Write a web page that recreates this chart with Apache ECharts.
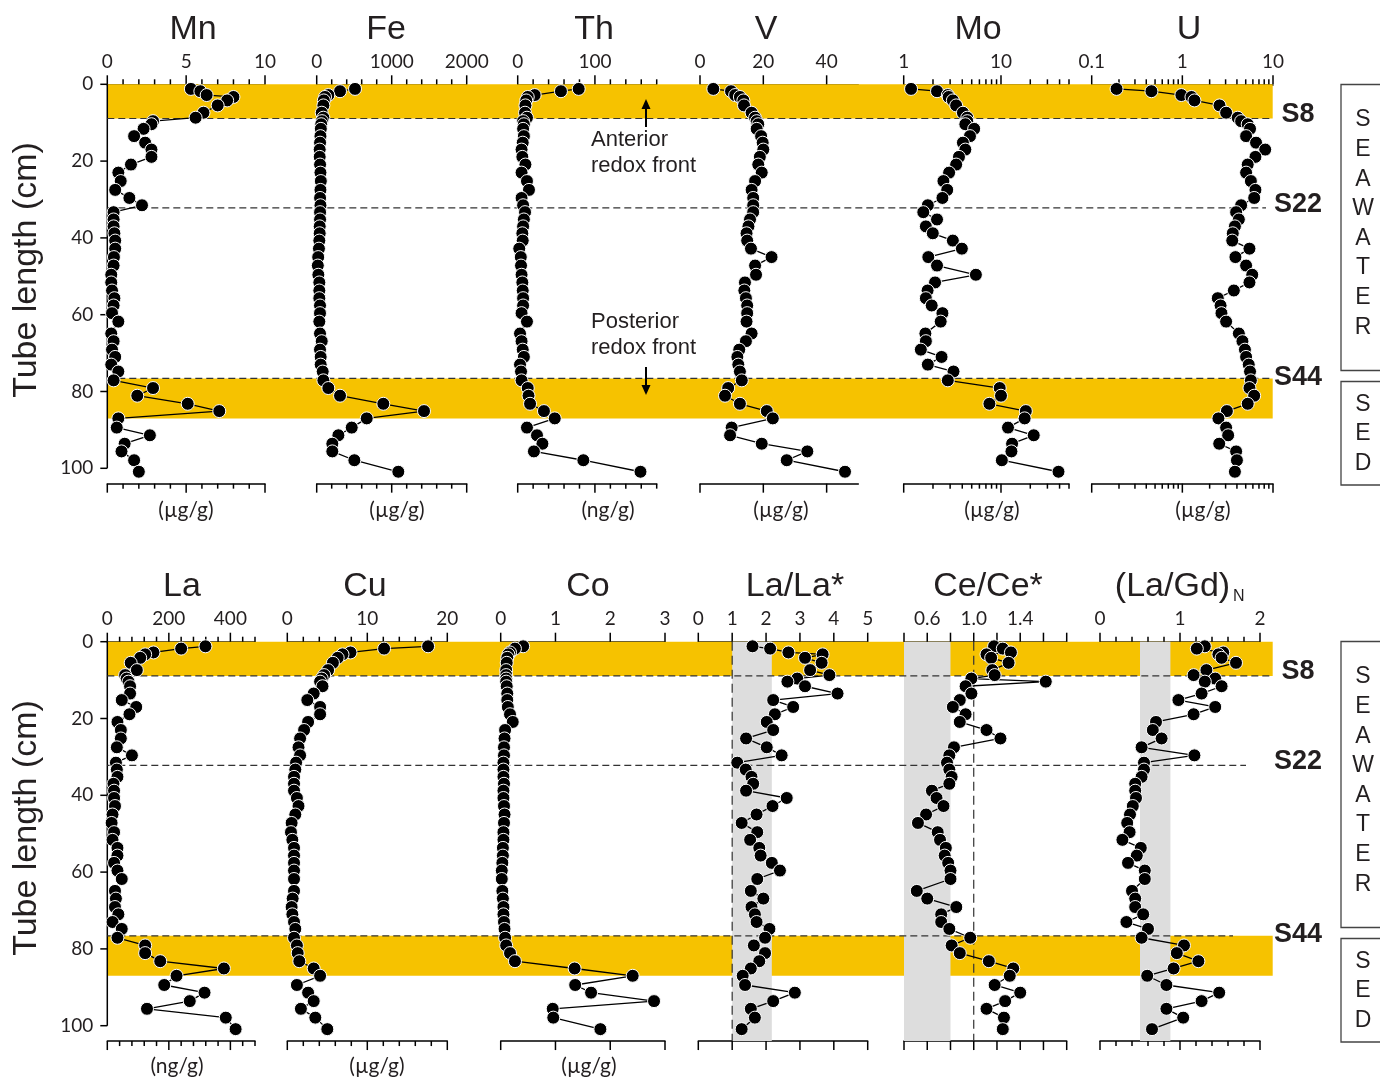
<!DOCTYPE html>
<html>
<head>
<meta charset="utf-8">
<title>Redox profiles along the tube</title>
<script src="https://cdn.jsdelivr.net/npm/echarts@6/dist/echarts.min.js"></script>
<style>
  html, body { margin: 0; padding: 0; background: #fff; }
  #chart { width: 1380px; height: 1084px; }
</style>
</head>
<body>
<div id="chart"></div>
<script>
// sample depth along the tube (cm), shared by all profiles
var depth = [1.2, 1.8, 2.8, 3.3, 4.2, 5.5, 7.4, 8.7, 9.6, 10.4, 11.6, 13.5, 15.2, 17, 18.9, 20.9, 23, 25.2, 27.5, 29.6,
  31.5, 33.3, 35.2, 37, 38.8, 40.7, 42.8, 45, 47.2, 49.6, 51.6, 53.7, 55.7, 57.6, 59.6, 61.8, 64.9, 66.9, 69.1, 71,
  73, 74.8, 77.1, 79.1, 81.1, 83.2, 85.1, 87, 89.4, 91.4, 93.6, 95.6, 97.9, 100.9];

// top row
var mn = [5.3, 5.9, 6.3, 8.0, 7.6, 7.0, 6.1, 5.6, 2.9, 2.8, 2.3, 1.7, 2.4, 2.8, 2.8, 1.5, 0.7, 0.85, 0.5, 1.4,
  2.2, 0.4, 0.4, 0.4, 0.45, 0.5, 0.5, 0.42, 0.4, 0.25, 0.25, 0.3, 0.45, 0.4, 0.3, 0.7, 0.25, 0.4, 0.3, 0.5,
  0.25, 0.7, 0.4, 2.9, 1.9, 5.1, 7.1, 0.7, 0.6, 2.7, 1.1, 0.9, 1.7, 2.0];
var fe = [511, 311, 155, 111, 95, 89, 67, 89, 70, 60, 55, 50, 45, 40, 40, 45, 50, 55, 50, 45,
  50, 45, 45, 40, 40, 35, 30, 20, 15, 22, 35, 35, 35, 44, 44, 35, 44, 67, 44, 53,
  53, 80, 89, 155, 311, 888, 1431, 667, 467, 289, 208, 208, 502, 1088];
var th = [79, 56, 22, 13, 11, 10, 9.5, 12, 7, 8, 7, 8, 6.5, 5, 6, 10, 5, 12, 14.6, 5,
  7, 9.5, 8, 7, 6, 6.5, 2, 4, 4.3, 5, 6, 6.5, 7, 7, 5, 12, 3, 5, 6.5, 8,
  3, 4.3, 5, 13, 14, 16, 34, 48, 12, 25, 32, 21, 85, 159];
var v = [4.2, 9.8, 11.1, 12.6, 13.7, 13.9, 16.3, 17.4, 17.9, 18.4, 17.9, 19.3, 19.8, 20, 18.9, 18.4, 19.5, 17.4, 16.3, 16.8,
  16.8, 16.8, 15.8, 15.3, 14.7, 14.9, 16.1, 22.6, 17.4, 17.7, 14.2, 14, 14.5, 14.9, 14.9, 14.7, 16.3, 14.5, 12.4, 11.8,
  12.1, 12.6, 13.2, 8.9, 7.9, 12.6, 21.1, 23, 10, 9.5, 19.5, 33.9, 27.4, 45.8];
var mo = [1.19, 2.2, 2.84, 2.9, 3.2, 3.46, 4.06, 4.5, 4.5, 4.3, 5.3, 4.8, 4.06, 4.3, 3.7, 3.46, 2.93, 2.56, 2.8, 2.5,
  1.77, 1.59, 2.2, 1.69, 1.99, 3.2, 3.96, 1.79, 2.2, 5.52, 2.1, 1.76, 1.69, 1.94, 2.5, 2.4, 1.67, 1.69, 1.5, 2.45,
  1.77, 3.25, 2.84, 9.7, 10, 7.6, 18, 17.5, 11.8, 21.7, 13, 12.8, 10.2, 39];
var u = [0.188, 0.456, 0.975, 1.26, 1.36, 2.57, 3.04, 4.08, 4.45, 5.26, 5.58, 5.05, 6.5, 8.2, 6.4, 5.26, 5.05, 5.7, 6.4, 6.2,
  4.45, 3.92, 4.2, 3.8, 3.6, 3.55, 5.5, 3.85, 5.05, 5.9, 5.5, 3.7, 2.46, 2.64, 2.7, 3.04, 4.2, 4.6, 4.9, 5.05,
  5.4, 5.58, 5.7, 5.5, 6.2, 5.26, 3.1, 2.5, 3.04, 3.2, 2.55, 3.92, 4.0, 3.8];

// bottom row
var la = [319, 240, 150, 123, 107, 76, 96, 58, 63, 69, 74, 74, 47, 94, 72, 33, 44, 44, 31, 80,
  28, 31, 33, 20, 22, 22, 25, 17, 14, 22, 17, 33, 33, 22, 33, 47, 25, 28, 25, 36,
  17, 47, 33, 123, 123, 172, 379, 225, 185, 316, 268, 129, 385, 417];
var cu = [17.6, 12.1, 7.9, 6.9, 6.3, 5.7, 5.1, 4.6, 4.3, 4.1, 4.4, 3.3, 2.5, 4.1, 4.1, 2.6, 2.1, 1.6, 1.4, 1.6,
  1.1, 1.0, 0.84, 0.84, 0.84, 1.2, 1.4, 1.0, 0.54, 0.46, 0.63, 0.84, 0.84, 0.84, 0.84, 0.84, 0.84, 0.67, 0.54, 0.63,
  0.84, 1.0, 0.84, 1.2, 1.3, 1.5, 3.3, 4.1, 1.2, 2.6, 3.3, 1.7, 3.5, 5.0];
var co = [0.41, 0.26, 0.17, 0.14, 0.12, 0.11, 0.1, 0.1, 0.1, 0.1, 0.11, 0.12, 0.12, 0.13, 0.17, 0.22, 0.08, 0.07, 0.06, 0.06,
  0.05, 0.05, 0.05, 0.06, 0.05, 0.05, 0.06, 0.07, 0.06, 0.05, 0.05, 0.04, 0.04, 0.03, 0.02, 0.02, 0.03, 0.04, 0.05, 0.05,
  0.06, 0.07, 0.08, 0.1, 0.17, 0.26, 1.35, 2.41, 1.36, 1.65, 2.8, 0.95, 0.96, 1.82];
var laLa = [1.6, 2.12, 2.66, 3.67, 3.15, 3.64, 3.3, 3.87, 2.92, 2.63, 3.15, 4.11, 2.21, 2.8, 2.26, 2.02, 2.21, 1.41, 2.02, 2.46,
  1.15, 1.4, 1.57, 1.62, 1.41, 2.61, 2.19, 1.72, 1.28, 1.74, 1.53, 1.8, 1.84, 2.17, 2.41, 1.74, 1.55, 1.92, 1.57, 1.67,
  1.72, 2.1, 1.97, 1.64, 1.97, 1.8, 1.55, 1.31, 1.38, 2.85, 2.21, 1.55, 1.67, 1.28];
var ceCe = [1.175, 1.25, 1.32, 1.11, 1.15, 1.30, 1.16, 1.18, 0.98, 1.62, 0.93, 0.98, 0.88, 0.82, 0.93, 0.88, 1.11, 1.23, 0.83, 0.79,
  0.77, 0.79, 0.81, 0.79, 0.64, 0.68, 0.74, 0.59, 0.52, 0.69, 0.71, 0.76, 0.75, 0.78, 0.80, 0.80, 0.51, 0.60, 0.85, 0.72,
  0.72, 0.79, 0.97, 0.81, 0.88, 1.13, 1.34, 1.31, 1.18, 1.40, 1.27, 1.11, 1.26, 1.25];
var laGd = [1.31, 1.21, 1.54, 1.48, 1.52, 1.70, 1.33, 1.17, 1.44, 1.31, 1.52, 1.27, 0.98, 1.44, 1.17, 0.70, 0.66, 0.77, 0.52, 1.18,
  0.55, 0.55, 0.52, 0.44, 0.44, 0.45, 0.41, 0.375, 0.34, 0.37, 0.28, 0.51, 0.46, 0.35, 0.56, 0.56, 0.40, 0.44, 0.44, 0.54,
  0.33, 0.60, 0.52, 1.05, 0.96, 1.23, 0.92, 0.59, 0.83, 1.49, 1.27, 0.83, 1.04, 0.65];

// zones (cm): sampled intervals and the fronts
var bandZones = [[0, 8.9], [76.6, 87]];
var frontLines = [8.9, 32.2, 76.6];
var depthTicks = [0, 20, 40, 60, 80, 100];

// axis ticks
var mnMajor = [0, 5, 10], mnMinor = [1, 2, 3, 4, 6, 7, 8, 9];
var feMajor = [0, 1000, 2000], feMinor = [200, 400, 600, 800, 1200, 1400, 1600, 1800];
var thMajor = [0, 100], thMinor = [20, 40, 60, 80, 120, 140, 160, 180];
var vMajor = [0, 20, 40], vMinor = [];
var moMajor = [1, 10], moMinor = [2, 3, 4, 5, 6, 7, 8, 9, 20, 30, 40, 50];
var uMajor = [0.1, 1, 10], uMinor = [0.2, 0.3, 0.4, 0.5, 0.6, 0.7, 0.8, 0.9, 2, 3, 4, 5, 6, 7, 8, 9];
var laMajor = [0, 200, 400], laMinor = [40, 80, 120, 160, 240, 280, 320, 360, 440, 480];
var cuMajor = [0, 10, 20], cuMinor = [2, 4, 6, 8, 12, 14, 16, 18];
var coMajor = [0, 1, 2, 3], coMinor = [];
var laLaMajor = [0, 1, 2, 3, 4, 5], laLaMinor = [];
var ceMajor = [0.4, 0.6, 0.8, 1.0, 1.2, 1.4, 1.6, 1.8], ceMinor = [], ceLabels = [0.6, 1.0, 1.4];
var laGdMajor = [0, 1, 2], laGdMinor = [0.2, 0.4, 0.6, 0.8, 1.2, 1.4, 1.6, 1.8];

var YMAX = 104, PX = 3.84;
var rowTop = [84.3, 641.7];
var plotH = YMAX * PX;
var ink = '#231f20';
var ORANGE = '#f6c200';
var BAND_L = 107.3, BAND_R = 1272.7;
// right end (px) of each dashed front line, per row
var frontEnds = [[1272.7, 1266, 1272.7], [1272.7, 1246, 1233]];

var panels = [
  { title: 'Mn', vals: mn, row: 0, first: true, x0: 107.3, x1: 265, type: 'value', min: 0, max: 10, interval: 5, major: mnMajor, minor: mnMinor, titleX: 193, unit: '(µg/g)', unitX: 186 },
  { title: 'Fe', vals: fe, row: 0, x0: 316.7, x1: 466.7, type: 'value', min: 0, max: 2000, interval: 1000, major: feMajor, minor: feMinor, titleX: 386, unit: '(µg/g)', unitX: 397 },
  { title: 'Th', vals: th, row: 0, x0: 517.7, x1: 656.7, type: 'value', min: 0, max: 180, interval: 100, hideMax: true, major: thMajor, minor: thMinor, titleX: 594, unit: '(ng/g)', unitX: 608 },
  { title: 'V', vals: v, row: 0, x0: 700, x1: 858.3, type: 'value', min: 0, max: 50, interval: 20, hideMax: true, major: vMajor, minor: vMinor, titleX: 766, unit: '(µg/g)', unitX: 781 },
  { title: 'Mo', vals: mo, row: 0, x0: 903.7, x1: 1069, type: 'log', min: 1, max: 50, hideMax: true, major: moMajor, minor: moMinor, titleX: 978, unit: '(µg/g)', unitX: 992 },
  { title: 'U', vals: u, row: 0, x0: 1091.7, x1: 1273, type: 'log', min: 0.1, max: 10, major: uMajor, minor: uMinor, titleX: 1189, unit: '(µg/g)', unitX: 1203 },
  { title: 'La', vals: la, row: 1, first: true, x0: 107.3, x1: 255, type: 'value', min: 0, max: 480, interval: 200, hideMax: true, major: laMajor, minor: laMinor, titleX: 182, unit: '(ng/g)', unitX: 177 },
  { title: 'Cu', vals: cu, row: 1, x0: 287.3, x1: 447.3, type: 'value', min: 0, max: 20, interval: 10, major: cuMajor, minor: cuMinor, titleX: 365, unit: '(µg/g)', unitX: 377 },
  { title: 'Co', vals: co, row: 1, x0: 500.7, x1: 665, type: 'value', min: 0, max: 3, interval: 1, major: coMajor, minor: coMinor, titleX: 588, unit: '(µg/g)', unitX: 589 },
  { title: 'La/La*', vals: laLa, row: 1, x0: 698.3, x1: 867.7, type: 'value', min: 0, max: 5, interval: 1, major: laLaMajor, minor: laLaMinor, titleX: 795, band: [1, 2.17], ref: 1 },
  { title: 'Ce/Ce*', vals: ceCe, row: 1, x0: 904, x1: 1066.7, type: 'value', min: 0.4, max: 1.8, interval: 0.2, labels: ceLabels, major: ceMajor, minor: ceMinor, titleX: 988, band: [0.4, 0.8], ref: 1 },
  { title: '(La/Gd)', sub: 'N', vals: laGd, row: 1, x0: 1100, x1: 1260, type: 'value', min: 0, max: 2, interval: 1, major: laGdMajor, minor: laGdMinor, titleX: 1172.5, band: [0.5, 0.88] }
];

// [x, y, length, orientation]  orientation 0: vertical tick, 1: horizontal tick, 2: axis line to y=length
function renderTick(params, api) {
  var p = api.coord([api.value(0), api.value(1)]);
  var d = api.value(2), o = api.value(3);
  var shape;
  if (o === 1) shape = { x1: p[0], y1: p[1], x2: p[0] + d, y2: p[1] };
  else if (o === 2) shape = { x1: p[0], y1: p[1], x2: p[0], y2: api.coord([api.value(0), d])[1] };
  else shape = { x1: p[0], y1: p[1], x2: p[0], y2: p[1] + d };
  return { type: 'line', shape: shape, style: { stroke: '#000', lineWidth: 1.5 } };
}

// [xa, ya, xb, yb] rectangles
function rectRenderer(fill) {
  return function (params, api) {
    var a = api.coord([api.value(0), api.value(1)]);
    var b = api.coord([api.value(2), api.value(3)]);
    return { type: 'rect', shape: { x: a[0], y: a[1], width: b[0] - a[0], height: b[1] - a[1] }, style: { fill: fill } };
  };
}

function lineRenderer(dash) {
  return function (params, api) {
    var a = api.coord([api.value(0), api.value(1)]);
    var b = api.coord([api.value(2), api.value(3)]);
    return { type: 'line', shape: { x1: a[0], y1: a[1], x2: b[0], y2: b[1] }, style: { stroke: '#333', lineWidth: 1.2, lineDash: dash } };
  };
}

function plainLabel(val) { return String(val); }

var grids = [], xAxes = [], yAxes = [], series = [], graphics = [];

panels.forEach(function (p, i) {
  grids.push({ left: p.x0, width: p.x1 - p.x0, top: rowTop[p.row], height: plotH, outerBoundsMode: 'none' });
  var top = {
    gridIndex: i, type: p.type, position: 'top', min: p.min, max: p.max,
    axisLine: { show: true, onZero: false, lineStyle: { color: '#000', width: 1.5 } },
    axisTick: { show: false }, splitLine: { show: false }, minorTick: { show: false },
    axisLabel: { margin: 13, fontFamily: 'Lato', fontSize: 19, color: ink, showMinLabel: true, showMaxLabel: !p.hideMax, formatter: plainLabel }
  };
  if (p.type === 'log') top.logBase = 10; else top.interval = p.interval;
  if (p.labels) {
    var keep = p.labels;
    top.axisLabel.formatter = function (val) {
      for (var k = 0; k < keep.length; k++) if (Math.abs(keep[k] - val) < 1e-6) return val.toFixed(1);
      return '';
    };
  }
  var bottom = {
    gridIndex: i, type: p.type, position: 'bottom', min: p.min, max: p.max,
    axisLine: { show: true, onZero: false, lineStyle: { color: '#000', width: 1.5 } },
    axisTick: { show: false }, axisLabel: { show: false }, splitLine: { show: false }
  };
  if (p.type === 'log') bottom.logBase = 10;
  xAxes.push(top, bottom);

  yAxes.push({
    gridIndex: i, type: 'value', inverse: true, min: 0, max: YMAX, interval: 20, show: !!p.first,
    axisLine: { show: false }, axisTick: { show: false }, splitLine: { show: false },
    axisLabel: { margin: 14, fontFamily: 'Lato', fontSize: 19, color: ink, showMaxLabel: false }
  });

  // ticks
  var ticks = [];
  p.major.forEach(function (t) { ticks.push([t, 0, -9, 0], [t, YMAX, 9, 0]); });
  p.minor.forEach(function (t) { ticks.push([t, 0, -5, 0], [t, YMAX, 5, 0]); });
  if (p.first) {
    ticks.push([p.min, 0, 100, 2]);
    depthTicks.forEach(function (t) { ticks.push([p.min, t, -7, 1]); });
  }
  series.push({
    type: 'custom', xAxisIndex: 2 * i, yAxisIndex: i, data: ticks, renderItem: renderTick,
    z: 3, silent: true, clip: false
  });

  if (p.band) {
    series.push({
      type: 'custom', xAxisIndex: 2 * i, yAxisIndex: i,
      data: [[p.band[0], 0, p.band[1], YMAX]], renderItem: rectRenderer('#dddddd'), z: 2, silent: true
    });
  }
  if (p.ref != null) {
    series.push({
      type: 'custom', xAxisIndex: 2 * i, yAxisIndex: i,
      data: [[p.ref, 0, p.ref, YMAX]], renderItem: lineRenderer([9, 5]), z: 3, silent: true
    });
  }

  series.push({
    type: 'line', xAxisIndex: 2 * i, yAxisIndex: i, name: p.title,
    data: p.vals.map(function (val, k) { return [val, depth[k]]; }),
    symbol: 'circle', symbolSize: 13, showSymbol: true,
    itemStyle: { color: '#000', borderColor: '#fff', borderWidth: 1 },
    lineStyle: { color: '#000', width: 1.3 },
    z: 5, silent: true, animation: false
  });

  var ty = p.row === 0 ? 30 : 587;
  graphics.push({ type: 'text', x: p.titleX, y: ty, z: 10, style: { text: p.title, fontFamily: 'Liberation Sans', fontSize: 34, fill: ink, align: 'center', verticalAlign: 'middle' } });
  if (p.sub) {
    graphics.push({ type: 'text', x: 1233, y: 597, z: 10, style: { text: p.sub, fontFamily: 'Liberation Sans', fontSize: 16, fill: ink, align: 'left', verticalAlign: 'middle' } });
  }
  if (p.unit) {
    graphics.push({ type: 'text', x: p.unitX, y: p.row === 0 ? 510 : 1066, z: 10, style: { text: p.unit, fontFamily: 'Lato', fontSize: 21, fill: ink, align: 'center', verticalAlign: 'middle' } });
  }
});

// full-width overlay per row for the shaded zones and the fronts
[0, 1].forEach(function (r) {
  var g = grids.length;
  grids.push({ left: BAND_L, width: BAND_R - BAND_L, top: rowTop[r], height: plotH, outerBoundsMode: 'none' });
  xAxes.push({ gridIndex: g, type: 'value', min: BAND_L, max: BAND_R, show: false });
  yAxes.push({ gridIndex: g, type: 'value', inverse: true, min: 0, max: YMAX, show: false });
  series.push({
    type: 'custom', xAxisIndex: xAxes.length - 1, yAxisIndex: yAxes.length - 1,
    data: bandZones.map(function (b) { return [BAND_L, b[0], BAND_R, b[1]]; }),
    renderItem: rectRenderer(ORANGE), z: 1, silent: true
  });
  series.push({
    type: 'custom', xAxisIndex: xAxes.length - 1, yAxisIndex: yAxes.length - 1,
    data: frontLines.map(function (y, k) { return [BAND_L, y, frontEnds[r][k], y]; }),
    renderItem: lineRenderer([7, 4]), z: 3, silent: true
  });

  // axis title
  graphics.push({
    type: 'text', x: 27, y: r === 0 ? 270 : 828, rotation: Math.PI / 2, z: 10,
    style: { text: 'Tube length (cm)', fontFamily: 'Liberation Sans', fontSize: 34, fill: ink, align: 'center', verticalAlign: 'middle' }
  });

  // sample labels
  var off = r === 0 ? 0 : 557;
  [['S8', 115], ['S22', 205], ['S44', 378]].forEach(function (s) {
    graphics.push({ type: 'text', x: 1298, y: s[1] + off, z: 10, style: { text: s[0], fontFamily: 'Liberation Sans', fontWeight: 'bold', fontSize: 27, fill: ink, align: 'center', verticalAlign: 'middle' } });
  });

  // environment boxes
  var boxes = [{ word: 'SEAWATER', y0: 84.5, y1: 370.5, pad: 35.5 }, { word: 'SED', y0: 381.5, y1: 485, pad: 23 }];
  boxes.forEach(function (b) {
    graphics.push({ type: 'rect', z: 10, shape: { x: 1341, y: b.y0 + off, width: 60, height: b.y1 - b.y0 }, style: { fill: 'none', stroke: '#444', lineWidth: 1.3 } });
    b.word.split('').forEach(function (ch, k) {
      graphics.push({ type: 'text', x: 1363, y: b.y0 + off + b.pad + k * 29.6, z: 10, style: { text: ch, fontFamily: 'Liberation Sans', fontSize: 23, fill: ink, align: 'center', verticalAlign: 'middle' } });
    });
  });
});

// redox front annotations
[['Anterior', 140], ['redox front', 166], ['Posterior', 322], ['redox front', 348]].forEach(function (t) {
  graphics.push({ type: 'text', x: 591, y: t[1], z: 10, style: { text: t[0], fontFamily: 'Liberation Sans', fontSize: 22, fill: ink, align: 'left', verticalAlign: 'middle' } });
});
graphics.push(
  { type: 'line', z: 10, shape: { x1: 646, y1: 127, x2: 646, y2: 106 }, style: { stroke: '#000', lineWidth: 2 } },
  { type: 'polygon', z: 10, shape: { points: [[641.5, 109], [650.5, 109], [646, 99]] }, style: { fill: '#000' } },
  { type: 'line', z: 10, shape: { x1: 646, y1: 367, x2: 646, y2: 388 }, style: { stroke: '#000', lineWidth: 2 } },
  { type: 'polygon', z: 10, shape: { points: [[641.5, 385], [650.5, 385], [646, 395]] }, style: { fill: '#000' } }
);

var chart = echarts.init(document.getElementById('chart'));
chart.setOption({
  animation: false,
  backgroundColor: '#fff',
  grid: grids,
  xAxis: xAxes,
  yAxis: yAxes,
  series: series,
  graphic: graphics
});
</script>
</body>
</html>
